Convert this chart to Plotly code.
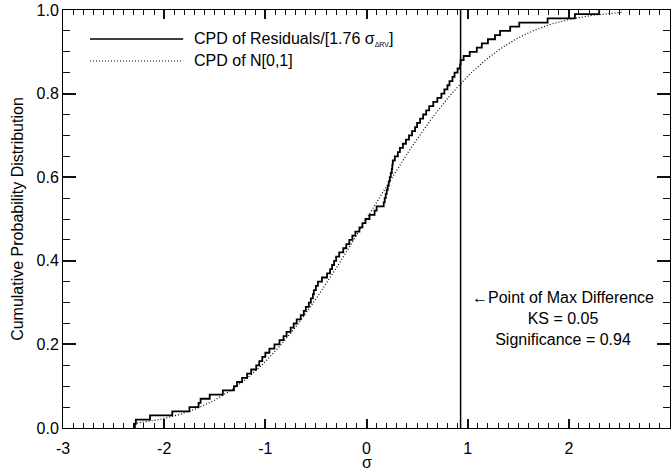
import math

import plotly.graph_objects as go

# Sorted residuals / [1.76 sigma_dRV] (N = 100)
RESIDUALS = [
    -2.29, -2.28, -2.14, -1.92, -1.75, -1.66, -1.64, -1.55, -1.42, -1.31,
    -1.28, -1.23, -1.18, -1.14, -1.09, -1.06, -1.03, -1.00, -0.96, -0.91,
    -0.86, -0.82, -0.79, -0.75, -0.72, -0.69, -0.65, -0.62, -0.60, -0.57,
    -0.55, -0.53, -0.52, -0.50, -0.48, -0.44, -0.39, -0.36, -0.34, -0.32,
    -0.30, -0.27, -0.23, -0.20, -0.17, -0.14, -0.11, -0.07, -0.04, -0.01,
    0.03, 0.08, 0.10, 0.17, 0.18, 0.19, 0.20, 0.21, 0.22, 0.23,
    0.24, 0.25, 0.255, 0.26, 0.28, 0.31, 0.33, 0.36, 0.39, 0.42,
    0.45, 0.48, 0.50, 0.53, 0.56, 0.59, 0.62, 0.66, 0.70, 0.74,
    0.77, 0.80, 0.82, 0.85, 0.87, 0.90, 0.925, 0.93, 0.96, 1.02,
    1.09, 1.14, 1.20, 1.27, 1.32, 1.42, 1.51, 1.79, 2.06, 2.30,
]
MAX_DIFF_X = 0.93
KS = 0.05
SIGNIFICANCE = 0.94
NORMAL_X_MIN, NORMAL_X_MAX = -2.30, 2.52

X_TICKS = [-3, -2, -1, 0, 1, 2, 3]
X_TICK_TEXT = ["-3", "-2", "-1", "0", "1", "2", "3"]

FONT = "Liberation Sans, Arial, Helvetica, sans-serif"
BLACK = "black"
TICK = "#111111"

n = len(RESIDUALS)
step_x = [RESIDUALS[0]] + RESIDUALS
step_y = [0.0] + [(i + 1) / n for i in range(n)]

# theoretical N[0,1] cumulative distribution
n_grid = 242
norm_x = [NORMAL_X_MIN + (NORMAL_X_MAX - NORMAL_X_MIN) * i / (n_grid - 1) for i in range(n_grid)]
norm_y = [0.5 * (1 + math.erf(v / math.sqrt(2))) for v in norm_x]

fig = go.Figure()
fig.add_trace(
    go.Scatter(
        x=norm_x, y=norm_y, mode="lines",
        line=dict(color=BLACK, width=1.2, dash="1px,2px"),
        hoverinfo="skip",
    )
)
fig.add_trace(
    go.Scatter(
        x=step_x, y=step_y, mode="lines", line_shape="hv",
        line=dict(color=BLACK, width=1.8),
    )
)
fig.add_trace(
    go.Scatter(
        x=[MAX_DIFF_X, MAX_DIFF_X], y=[0, 1], mode="lines",
        line=dict(color=BLACK, width=1.5),
    )
)

# hand-drawn legend (IDL style)
fig.add_shape(type="line", xref="paper", yref="paper", x0=0.0445, x1=0.198,
              y0=0.9306, y1=0.9306, line=dict(color=BLACK, width=1.5))
fig.add_shape(type="line", xref="paper", yref="paper", x0=0.0445, x1=0.198,
              y0=0.878, y1=0.878, line=dict(color=BLACK, width=1.2, dash="1px,2px"))
fig.add_annotation(
    xref="paper", yref="paper", x=0.213, y=0.9306, xanchor="left", yanchor="middle",
    text="CPD of Residuals/[1.76 σ<sub><span style='font-size:7px'>ΔRV</span></sub>]",
    showarrow=False, font=dict(size=16),
)
fig.add_annotation(
    xref="paper", yref="paper", x=0.213, y=0.878, xanchor="left", yanchor="middle",
    text="CPD of N[0,1]", showarrow=False, font=dict(size=16),
)

fig.add_annotation(
    x=1.94, y=0.313, xanchor="center", yanchor="top", align="center",
    text=f"←Point of Max Difference<br>KS = {KS:.2f}<br>Significance = {SIGNIFICANCE:.2f}",
    showarrow=False, font=dict(size=16), yshift=10,
)

# axis titles placed by hand
fig.add_annotation(
    xref="paper", yref="paper", x=0.5, y=-0.083, xanchor="center", yanchor="middle",
    text="σ", showarrow=False, font=dict(size=16),
)
fig.add_annotation(
    xref="paper", yref="paper", x=-0.076, y=0.5, xanchor="center", yanchor="middle",
    text="Cumulative Probability Distribution", textangle=-90,
    showarrow=False, font=dict(size=16),
)

fig.update_xaxes(
    range=[-3, 3], tickmode="array", tickvals=X_TICKS, ticktext=X_TICK_TEXT,
    ticks="inside", ticklen=9, tickcolor=TICK, tickwidth=1.5,
    showline=True, linecolor=BLACK, mirror="ticks", showgrid=False,
    ticklabelstandoff=6,
    minor=dict(dtick=0.1, ticks="inside", ticklen=5, tickcolor=TICK, tickwidth=1),
)
fig.update_yaxes(
    range=[0, 1], dtick=0.2, tick0=0, ticks="inside", ticklen=13,
    tickcolor=TICK, tickwidth=1.5,
    showline=True, linecolor=BLACK, mirror="ticks", showgrid=False,
    minor=dict(dtick=0.05, ticks="inside", ticklen=7, tickcolor=TICK, tickwidth=1),
    tickformat=".1f",
)
fig.update_layout(
    width=672, height=470,
    margin=dict(l=63, r=2, t=10, b=42),
    paper_bgcolor="white", plot_bgcolor="white",
    font=dict(family=FONT, color=BLACK, size=16),
    showlegend=False,
)
# drop the default 8 px page margin so the figure fills the window exactly
fig.write_html(
    "out.html",
    config={"displayModeBar": False},
    post_script="document.body.style.margin = '0';",
)
